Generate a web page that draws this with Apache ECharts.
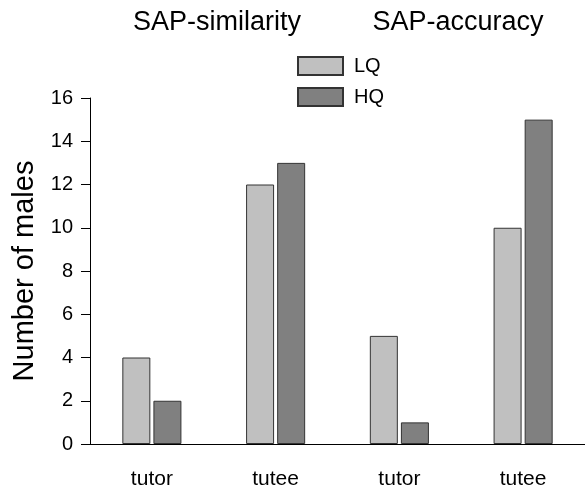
<!DOCTYPE html>
<html>
<head>
<meta charset="utf-8">
<script src="https://cdn.jsdelivr.net/npm/echarts@6/dist/echarts.min.js"></script>
<style>
  html, body { margin: 0; padding: 0; background: #fff; }
  #chart { width: 585px; height: 490px; }
</style>
</head>
<body>
<div id="chart"></div>
<script>
// Male counts by role, split into low- and high-quality groups
const categories = ['tutor', 'tutee', 'tutor', 'tutee'];
const lqValues = [4, 12, 5, 10];
const hqValues = [2, 13, 1, 15];
const yTicks = { min: 0, max: 16, interval: 2 };
const panelTitles = ['SAP-similarity', 'SAP-accuracy'];

const FONT = '"Liberation Sans", Arial, Helvetica, sans-serif';

const chart = echarts.init(document.getElementById('chart'), null, { renderer: 'canvas' });

const barStyle = (color) => ({
  color: color,
  borderColor: '#333',
  borderWidth: 1
});

chart.setOption({
  animation: false,
  backgroundColor: '#fff',
  textStyle: { fontFamily: FONT },
  grid: { left: 90, right: 0, top: 98, bottom: 45, containLabel: false },
  legend: {
    orient: 'vertical',
    left: 292,
    top: 51,
    itemWidth: 45,
    itemHeight: 18,
    itemGap: 11,
    icon: 'rect',
    selectedMode: false,
    textStyle: { fontFamily: FONT, fontSize: 20, color: '#000', padding: [0, 0, 0, 6] },
    data: ['LQ', 'HQ']
  },
  graphic: [
    {
      type: 'text', x: 217, y: 23,
      style: { text: panelTitles[0], font: '27px ' + FONT, fill: '#000', align: 'center', verticalAlign: 'middle' }
    },
    {
      type: 'text', x: 458, y: 23,
      style: { text: panelTitles[1], font: '27px ' + FONT, fill: '#000', align: 'center', verticalAlign: 'middle' }
    }
  ],
  xAxis: {
    type: 'category',
    data: categories,
    axisLine: { lineStyle: { color: '#000', width: 1 } },
    axisTick: { alignWithLabel: true, length: 8, lineStyle: { color: '#000' } },
    axisLabel: { color: '#000', fontSize: 21, fontFamily: FONT, margin: 25 },
    splitLine: { show: false }
  },
  yAxis: {
    type: 'value',
    min: yTicks.min,
    max: yTicks.max,
    interval: yTicks.interval,
    name: 'Number of males',
    nameLocation: 'middle',
    nameRotate: 90,
    nameGap: 50,
    nameTextStyle: { color: '#000', fontSize: 29, fontFamily: FONT },
    axisLine: { show: true, lineStyle: { color: '#000', width: 1 } },
    axisTick: { show: true, length: 9, lineStyle: { color: '#000' } },
    axisLabel: { color: '#000', fontSize: 20, fontFamily: FONT, margin: 17 },
    splitLine: { show: false }
  },
  series: [
    {
      name: 'LQ',
      type: 'bar',
      data: lqValues,
      barWidth: 28,
      barGap: '11%',
      itemStyle: barStyle('#c0c0c0')
    },
    {
      name: 'HQ',
      type: 'bar',
      data: hqValues,
      barWidth: 28,
      barGap: '11%',
      itemStyle: barStyle('#808080')
    }
  ]
});
</script>
</body>
</html>
